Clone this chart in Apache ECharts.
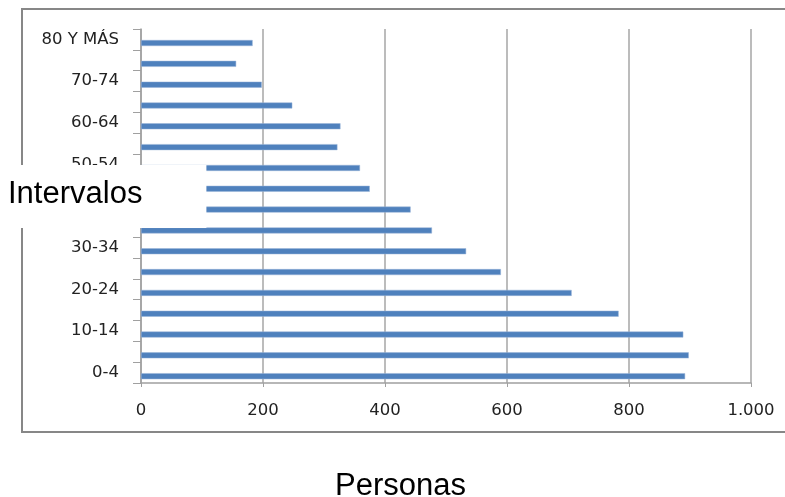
<!DOCTYPE html>
<html>
<head>
<meta charset="utf-8">
<script src="https://cdn.jsdelivr.net/npm/echarts@6/dist/echarts.min.js"></script>
<style>
html,body{margin:0;padding:0;background:#fff;}
#c{width:785px;height:497px;}
</style>
</head>
<body>
<div id="c"></div>
<script>
var categories = ['0-4','5-9','10-14','15-19','20-24','25-29','30-34','35-39','40-44','45-49','50-54','55-59','60-64','65-69','70-74','75-79','80 Y MÁS'];
var personas = [892, 898, 889, 783, 706, 590, 533, 477, 442, 375, 359, 322, 327, 248, 198, 156, 183];
var emptySeries = [];
var xTicks = [0, 200, 400, 600, 800, 1000];
var yTitle = 'Intervalos';
var xTitle = 'Personas';

var chart = echarts.init(document.getElementById('c'));
chart.setOption({
  animation: false,
  backgroundColor: '#fff',
  graphic: [{
    type: 'rect', z: 0,
    shape: {x: 22, y: 9, width: 790, height: 423},
    style: {fill: 'none', stroke: '#878787', lineWidth: 2}
  }],
  title: [{
    text: yTitle, left: 0, top: 165, z: 20,
    backgroundColor: '#ffffff',
    padding: [14, 64, 18, 8],
    textStyle: {fontFamily: 'Liberation Sans', fontSize: 31, fontWeight: 'normal', color: '#000'}
  }, {
    text: xTitle, left: 335, top: 471,
    padding: 0,
    textStyle: {fontFamily: 'Liberation Sans', fontSize: 31, fontWeight: 'normal', color: '#000'}
  }],
  grid: {left: 141, right: 34, top: 29, bottom: 114, containLabel: false},
  xAxis: {
    type: 'value', min: xTicks[0], max: xTicks[xTicks.length - 1], interval: 200,
    axisLine: {show: true, lineStyle: {color: '#a0a0a0', width: 1.5}},
    axisTick: {show: true, length: 4, lineStyle: {color: '#a0a0a0'}},
    splitLine: {show: true, lineStyle: {color: '#a6a6a6', width: 1.5}},
    axisLabel: {
      margin: 19, fontFamily: 'DejaVu Sans', fontSize: 16.5, color: '#222',
      formatter: function (v) { return v >= 1000 ? (Math.floor(v / 1000) + '.' + String(v % 1000).padStart(3, '0')) : String(v); }
    }
  },
  yAxis: {
    type: 'category', data: categories,
    axisLine: {show: true, lineStyle: {color: '#a0a0a0', width: 1.5}},
    axisTick: {show: true, length: 8, interval: 0, lineStyle: {color: '#a0a0a0'}},
    axisLabel: {interval: 1, margin: 22, fontFamily: 'DejaVu Sans', fontSize: 16.5, color: '#222'},
    splitLine: {show: false}
  },
  series: [{
    type: 'bar', data: emptySeries, barWidth: 6, barGap: '20%', z: 2,
    itemStyle: {color: '#c0504d'}
  }, {
    type: 'bar', data: personas, barWidth: 6, barGap: '20%', z: 2,
    itemStyle: {color: '#4f81bd', borderColor: '#9bb5d8', borderWidth: 0.5}
  }]
});
</script>
</body>
</html>
